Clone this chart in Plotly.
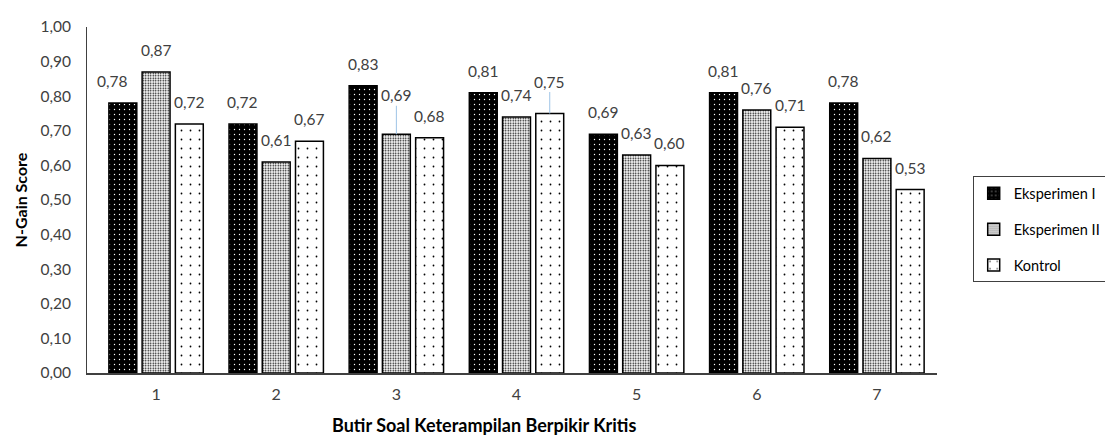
import plotly.graph_objects as go

categories = ["1", "2", "3", "4", "5", "6", "7"]
series_names = ["Eksperimen I", "Eksperimen II", "Kontrol"]
eksperimen_1 = [0.78, 0.72, 0.83, 0.81, 0.69, 0.81, 0.78]
eksperimen_2 = [0.87, 0.61, 0.69, 0.74, 0.63, 0.76, 0.62]
kontrol = [0.72, 0.67, 0.68, 0.75, 0.60, 0.71, 0.53]
y_ticks = [0.0, 0.1, 0.2, 0.3, 0.4, 0.5, 0.6, 0.7, 0.8, 0.9, 1.0]

W, H = 1105, 442
ML, MR, MT, MB = 87, 168, 27, 69
BARGAP, GROUPGAP = 0.17, 0.16
X_LO, X_HI = -0.575, len(categories) - 0.5
FONT = "Lato, Carlito, Calibri, sans-serif"
LBL = 15.5

styles = [
    dict(shape=".", bgcolor="#000000", fgcolor="#ffffff", size=5, solidity=0.06),
    dict(shape=".", bgcolor="#ffffff", fgcolor="#000000", size=2.5, solidity=0.3),
    dict(shape=".", bgcolor="#ffffff", fgcolor="#000000", size=9, solidity=0.03),
]

fig = go.Figure()
all_values = [eksperimen_1, eksperimen_2, kontrol]
for i, (name, vals) in enumerate(zip(series_names, all_values)):
    st = styles[i]
    fig.add_trace(go.Bar(
        x=categories, y=vals, name=name, legendgroup=name,
        marker=dict(color=st["bgcolor"],
                    line=dict(color="#000000", width=1.5),
                    pattern=dict(shape=st["shape"], bgcolor=st["bgcolor"],
                                 fgcolor=st["fgcolor"], size=st["size"],
                                 solidity=st["solidity"], fillmode="replace")),
    ))

# label placement (styles): per-(series, category) special offsets
cat_px = (W - ML - MR) / (X_HI - X_LO)
slot_px = cat_px * (1 - BARGAP) / 3
special_dx = {(0, 0): -10}
leader = {(1, 2): 39, (2, 3): 32}

annotations = []
for i, vals in enumerate(all_values):
    for j, v in enumerate(vals):
        txt = f"{v:.2f}".replace(".", ",")
        xs = (i - 1) * slot_px + special_dx.get((i, j), 0)
        if (i, j) in leader:
            annotations.append(dict(
                x=j, y=v, xref="x", yref="y", text=txt,
                xshift=xs, showarrow=True, arrowhead=0, arrowwidth=1,
                arrowcolor="#9dc3e6", ax=0, ay=-leader[(i, j)],
                standoff=0, font=dict(family=FONT, size=LBL, color="#404040")))
        else:
            annotations.append(dict(
                x=j, y=v, xref="x", yref="y", text=txt,
                xshift=xs, yshift=22, showarrow=False, yanchor="middle",
                font=dict(family=FONT, size=LBL, color="#404040")))

annotations.append(dict(
    x=(484 - ML) / (W - ML - MR), y=-0.15, xref="paper", yref="paper",
    text="<b>Butir Soal Keterampilan Berpikir Kritis</b>", showarrow=False,
    yanchor="middle", font=dict(family=FONT, size=18, color="#000000")))

fig.update_layout(
    width=W, height=H,
    margin=dict(l=ML, r=MR, t=MT, b=MB, autoexpand=False),
    paper_bgcolor="#ffffff", plot_bgcolor="#ffffff",
    barmode="group", bargap=BARGAP, bargroupgap=GROUPGAP,
    separators=",.",
    font=dict(family=FONT, size=LBL, color="#404040"),
    showlegend=True,
    legend=dict(x=1.042, y=0.415, xanchor="left", yanchor="middle",
                bordercolor="#404040", borderwidth=1, bgcolor="#ffffff",
                traceorder="grouped", tracegroupgap=14,
                font=dict(family=FONT, size=14.5, color="#000000"),
                itemwidth=30),
    annotations=annotations,
)
fig.update_xaxes(type="category", range=[X_LO, X_HI],
                 showline=True, linecolor="#404040", linewidth=1.5,
                 showgrid=False, ticks="", ticklabelstandoff=6,
                 tickfont=dict(size=16, color="#404040"))
fig.update_yaxes(range=[0, 1], tickvals=y_ticks, tickformat=".2f",
                 showline=True, linecolor="#404040", linewidth=1,
                 showgrid=False, zeroline=False, ticks="",
                 ticklabelstandoff=12,
                 tickfont=dict(size=15.5, color="#404040"),
                 title=dict(text="<b>N-Gain Score</b>", standoff=8,
                            font=dict(size=16, color="#000000")))

fig.write_html("out.html")
